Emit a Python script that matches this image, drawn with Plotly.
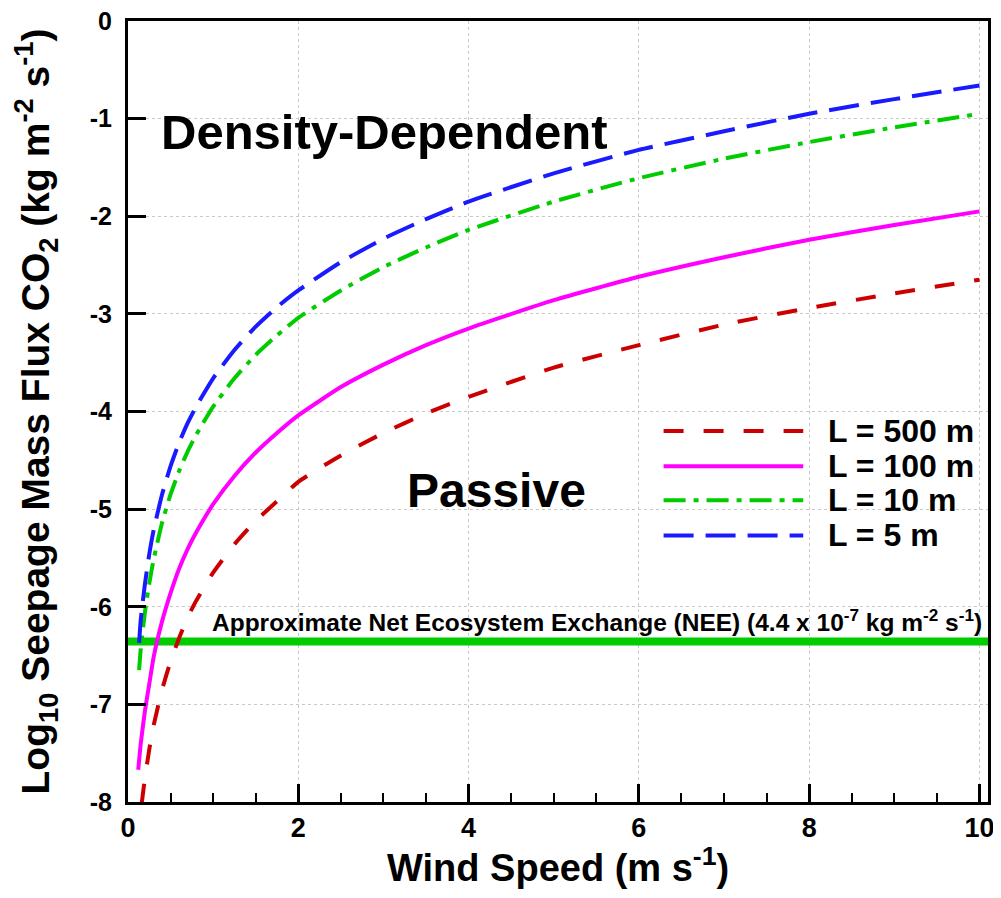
import plotly.graph_objects as go

# ---- data ----
wind = [0.13, 0.15, 0.2, 0.25, 0.3, 0.4, 0.5, 0.6, 0.7, 0.8, 1.0, 1.25, 1.5, 1.75,
        2.0, 2.5, 3.0, 3.5, 4.0, 5.0, 6.0, 7.0, 8.0, 9.0, 10.0]

y_L5 = [-6.37, -6.13, -5.76, -5.46, -5.22, -4.85, -4.56, -4.32, -4.12, -3.95, -3.66, -3.37, -3.13, -2.93,
        -2.76, -2.47, -2.23, -2.03, -1.85, -1.56, -1.32, -1.13, -0.95, -0.80, -0.66]
y_L10 = [-6.65, -6.43, -6.05, -5.76, -5.52, -5.14, -4.85, -4.61, -4.41, -4.24, -3.95, -3.66, -3.42, -3.22,
         -3.04, -2.76, -2.52, -2.32, -2.14, -1.85, -1.61, -1.41, -1.24, -1.09, -0.95]

wind_L100 = [0.12, 0.15, 0.2, 0.25, 0.3, 0.4, 0.5, 0.6, 0.7, 0.8, 1.0, 1.25, 1.5, 1.75,
             2.0, 2.5, 3.0, 3.5, 4.0, 5.0, 6.0, 7.0, 8.0, 9.0, 10.0]
y_L100 = [-7.67, -7.40, -7.06, -6.79, -6.52, -6.15, -5.86, -5.61, -5.41, -5.24, -4.95, -4.66, -4.42, -4.22,
          -4.04, -3.75, -3.52, -3.32, -3.15, -2.86, -2.62, -2.42, -2.24, -2.09, -1.95]

wind_L500 = [0.16, 0.2, 0.25, 0.3, 0.4, 0.5, 0.6, 0.7, 0.8, 1.0, 1.25, 1.5, 1.75,
             2.0, 2.5, 3.0, 3.5, 4.0, 5.0, 6.0, 7.0, 8.0, 9.0, 10.0]
y_L500 = [-8.02, -7.75, -7.46, -7.22, -6.85, -6.56, -6.32, -6.11, -5.94, -5.65, -5.36, -5.12, -4.92,
          -4.72, -4.45, -4.22, -4.02, -3.85, -3.55, -3.32, -3.11, -2.94, -2.79, -2.65]

nee_value = -6.357  # log10(4.4e-7)
nee_x = [0.0, 10.1]

series_names = ["L = 500 m", "L = 100 m", "L = 10 m", "L = 5 m"]
series_colors = ["#cc0000", "#ff00ff", "#00cc00", "#1a1aff"]
series_dash = ["20px,20px", "solid", "22px,8px,5px,8px", "30px,12px"]
series_x = [wind_L500, wind_L100, wind, wind]
series_y = [y_L500, y_L100, y_L10, y_L5]

x_ticks = [0, 2, 4, 6, 8, 10]
y_ticks = [0, -1, -2, -3, -4, -5, -6, -7, -8]

BOLD = "Liberation Sans, Arial, sans-serif"
NARROW = "Liberation Sans Narrow, Arial Narrow, Liberation Sans, sans-serif"

fig = go.Figure()

# NEE line
fig.add_trace(go.Scatter(x=nee_x, y=[nee_value, nee_value], mode="lines",
                         line=dict(color="#00cc00", width=8), showlegend=False,
                         hoverinfo="skip"))

for nm, c, d, xs, ys in zip(series_names, series_colors, series_dash, series_x, series_y):
    fig.add_trace(go.Scatter(x=xs, y=ys, mode="lines", name=nm,
                             line=dict(color=c, width=4, dash=d, shape="spline", smoothing=0.5),
                             showlegend=False))

# manual legend (long line samples like the reference)
leg_y = [-4.2, -4.56, -4.91, -5.27]
for nm, c, d, ly in zip(series_names, series_colors, series_dash, leg_y):
    fig.add_shape(type="line", xref="x", yref="y", x0=6.29, x1=7.93, y0=ly, y1=ly,
                  line=dict(color=c, width=4, dash=d))
    fig.add_annotation(x=8.2, y=ly, xref="x", yref="y", text="<b>%s</b>" % nm,
                       showarrow=False, xanchor="left", yanchor="middle",
                       font=dict(family=BOLD, size=32, color="black"))

fig.add_annotation(x=3.01, y=-1.14, xref="x", yref="y", text="<b>Density-Dependent</b>",
                   showarrow=False, xanchor="center", yanchor="middle",
                   font=dict(family=BOLD, size=49, color="black"))
fig.add_annotation(x=4.33, y=-4.81, xref="x", yref="y", text="<b>Passive</b>",
                   showarrow=False, xanchor="center", yanchor="middle",
                   font=dict(family=BOLD, size=48, color="black"))
fig.add_annotation(x=0.96, y=nee_value + 0.04, xref="x", yref="y",
                   text="<b>Approximate Net Ecosystem Exchange (NEE) (4.4 x 10<sup>-7</sup> kg m<sup>-2</sup> s<sup>-1</sup>)</b>",
                   showarrow=False, xanchor="left", yanchor="bottom",
                   font=dict(family=NARROW, size=24.5, color="black"))
# x-axis title
fig.add_annotation(x=0.5, y=-0.081, xref="paper", yref="paper",
                   text="<b>Wind Speed (m s<sup>-1</sup>)</b>",
                   showarrow=False, xanchor="center", yanchor="middle",
                   font=dict(family=NARROW, size=38, color="black"))

# page body has an 8px margin: size/offset the figure so the plot lands where the reference has it
fig.update_layout(
    width=993, height=890,
    margin=dict(l=120, r=13, t=13, b=96),
    plot_bgcolor="white", paper_bgcolor="white",
    showlegend=False,
)
fig.update_xaxes(
    range=[0, 10.1], tickvals=x_ticks, ticktext=[str(v) for v in x_ticks],
    ticks="inside", ticklen=18, tickwidth=3, tickcolor="black",
    minor=dict(dtick=0.5, ticks="inside", ticklen=9, tickwidth=1.5, tickcolor="black", showgrid=False),
    showline=True, linewidth=3, linecolor="black", mirror=True,
    showgrid=True, gridcolor="#c8c8c8", gridwidth=1, griddash="dot",
    zeroline=False, automargin=False, ticklabeloverflow="allow",
    tickfont=dict(family=NARROW, size=27, color="black", weight="bold"),
)
fig.update_yaxes(
    range=[-8, 0], tickvals=y_ticks, ticktext=[str(v) for v in y_ticks],
    ticks="inside", ticklen=18, tickwidth=3, tickcolor="black",
    showline=True, linewidth=3, linecolor="black", mirror=True,
    showgrid=True, gridcolor="#c8c8c8", gridwidth=1, griddash="dot",
    zeroline=False, ticklabelstandoff=8, automargin=False, ticklabeloverflow="allow",
    tickfont=dict(family=BOLD, size=25, color="black", weight="bold"),
    title=dict(text="<b>Log<sub>10</sub> Seepage Mass Flux CO<sub>2</sub> (kg m<sup>-2</sup> s<sup>-1</sup>)</b>",
               standoff=30, font=dict(family=BOLD, size=39, color="black")),
)

fig.write_html("out.html")
